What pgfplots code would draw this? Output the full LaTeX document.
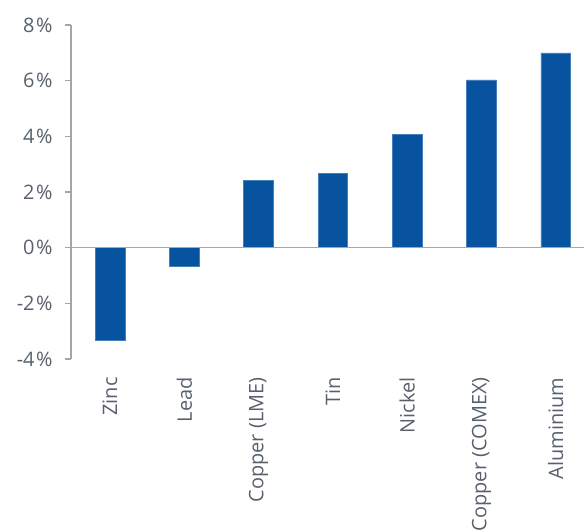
\documentclass[border=0pt]{standalone}
\usepackage{pgfplots}
\pgfplotsset{compat=1.18}
\usepackage{fontspec}
\setmainfont{Open Sans}
\definecolor{barblue}{RGB}{7,83,160}
\definecolor{axgray}{RGB}{166,166,166}
\definecolor{txtgray}{RGB}{88,96,108}
\begin{document}
\begin{tikzpicture}
\useasboundingbox (0bp,0bp) rectangle (584bp,532bp);
\clip (0bp,0bp) rectangle (584bp,532bp);
\begin{axis}[
    at={(71bp,173bp)}, anchor=south west,
    scale only axis,
    width=513bp, height=334bp,
    ybar,
    bar width=0.4,
    xmin=-0.525, xmax=6.38,
    ymin=-4, ymax=8,
    ytick={-4,-2,0,2,4,6,8},
    yticklabel={\pgfmathprintnumber{\tick}\kern1.5bp\%},
    xtick=data,
    xticklabels={Zinc,Lead,Copper (LME),Tin,Nickel,Copper (COMEX),Aluminium},
    x tick label style={rotate=90, anchor=east, xshift=-9bp},
    axis lines*=left,
    x axis line style={draw=none},
    xtick style={draw=none},
    y axis line style={axgray, line width=1.3bp, -},
    ytick style={axgray, line width=1.3bp},
    major tick length=6bp,
    tick align=outside,
    ticklabel style={font=\fontsize{20}{22}\selectfont, text=txtgray},
    y tick label style={xshift=-9bp},
    /pgf/number format/assume math mode=true,
    clip=false,
]
\addplot[fill=barblue, draw=barblue!75!white, line width=0.5bp] coordinates {
    (0,-3.34) (1,-0.68) (2,2.41) (3,2.66) (4,4.06) (5,6.03) (6,7.0)};
\draw[axgray, line width=1.3bp] ([xshift=-6bp]axis cs:-0.525,0) -- (axis cs:6.38,0);
\end{axis}
\end{tikzpicture}
\end{document}
